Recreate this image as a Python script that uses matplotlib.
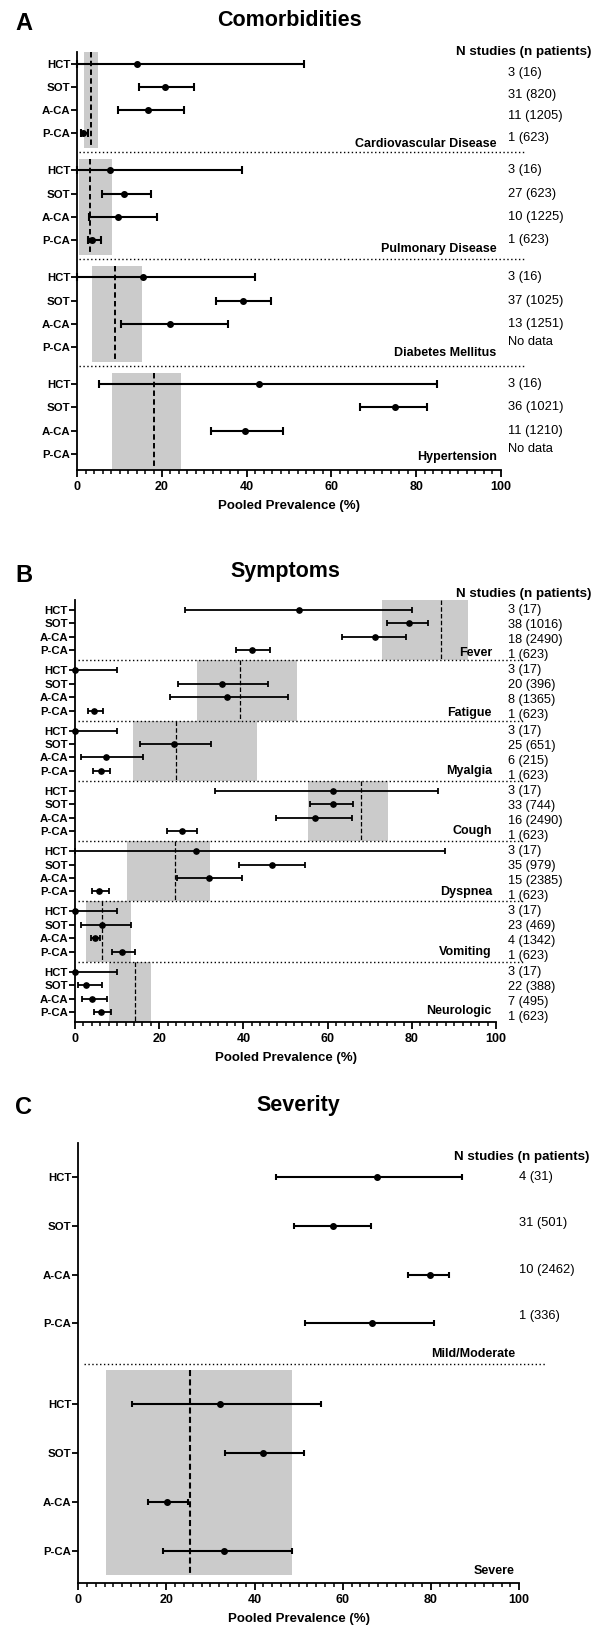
import numpy as np
import matplotlib
matplotlib.use("Agg")
import matplotlib.pyplot as plt
from matplotlib.ticker import MultipleLocator

plt.rcParams['font.family'] = ['Liberation Sans', 'DejaVu Sans']

nan = np.nan
groups = ["HCT", "SOT", "A-CA", "P-CA"]

# ---------------- Panel A: Comorbidities ----------------
comorb_categories = ["Cardiovascular Disease", "Pulmonary Disease", "Diabetes Mellitus", "Hypertension"]
comorb_est = [[14.0, 20.7, 16.6, 1.4], [7.8, 11.0, 9.6, 3.5], [15.5, 39.1, 21.8, nan], [42.8, 74.9, 39.7, nan]]
comorb_lo = [[0.0, 14.5, 9.5, 0.8], [0.0, 5.8, 2.8, 2.5], [0.0, 32.7, 10.4, nan], [5.1, 66.7, 31.5, nan]]
comorb_hi = [[53.5, 27.5, 25.1, 2.5], [38.8, 17.4, 18.8, 5.6], [42.0, 45.7, 35.6, nan], [85.0, 82.6, 48.5, nan]]
comorb_pooled = [3.2, 3.0, 8.9, 18.0]
comorb_pooled_lo = [1.7, 0.4, 3.5, 8.2]
comorb_pooled_hi = [5.0, 8.1, 15.3, 24.6]
comorb_n = [["3 (16)", "31 (820)", "11 (1205)", "1 (623)"],
            ["3 (16)", "27 (623)", "10 (1225)", "1 (623)"],
            ["3 (16)", "37 (1025)", "13 (1251)", "No data"],
            ["3 (16)", "36 (1021)", "11 (1210)", "No data"]]

# ---------------- Panel B: Symptoms ----------------
symp_categories = ["Fever", "Fatigue", "Myalgia", "Cough", "Dyspnea", "Vomiting", "Neurologic"]
symp_est = [[53.2, 79.2, 71.3, 42.1], [0.0, 34.8, 36.0, 4.5], [0.0, 23.5, 7.3, 6.1],
            [61.2, 61.2, 56.9, 25.5], [28.8, 46.7, 31.7, 5.8], [0.0, 6.5, 4.8, 11.1],
            [0.0, 2.5, 4.1, 6.1]]
symp_lo = [[26.0, 74.1, 63.3, 38.2], [0.0, 24.5, 22.5, 3.2], [0.0, 15.4, 1.4, 4.3],
           [33.3, 55.9, 47.8, 21.9], [0.0, 38.9, 24.1, 4.0], [0.0, 1.5, 3.8, 8.9],
           [0.0, 0.8, 1.6, 4.4]]
symp_hi = [[79.9, 83.8, 78.6, 46.2], [9.9, 45.8, 50.5, 6.7], [9.9, 32.2, 16.2, 8.4],
           [86.1, 66.0, 65.8, 29.0], [87.9, 54.6, 39.6, 8.1], [9.9, 13.3, 6.0, 14.2],
           [9.9, 6.5, 7.6, 8.5]]
symp_pooled = [86.9, 39.2, 24.0, 68.0, 23.8, 6.5, 14.2]
symp_pooled_lo = [72.9, 28.9, 13.7, 55.4, 12.3, 2.5, 8.0]
symp_pooled_hi = [93.3, 52.8, 43.2, 74.2, 32.1, 13.3, 18.1]
symp_n = [["3 (17)", "38 (1016)", "18 (2490)", "1 (623)"],
          ["3 (17)", "20 (396)", "8 (1365)", "1 (623)"],
          ["3 (17)", "25 (651)", "6 (215)", "1 (623)"],
          ["3 (17)", "33 (744)", "16 (2490)", "1 (623)"],
          ["3 (17)", "35 (979)", "15 (2385)", "1 (623)"],
          ["3 (17)", "23 (469)", "4 (1342)", "1 (623)"],
          ["3 (17)", "22 (388)", "7 (495)", "1 (623)"]]

# ---------------- Panel C: Severity ----------------
sev_categories = ["Mild/Moderate", "Severe"]
sev_est = [[67.7, 57.8, 79.7, 66.7], [32.1, 42.0, 20.1, 33.1]]
sev_lo = [[44.8, 48.9, 74.9, 51.4], [12.3, 33.4, 15.9, 19.3]]
sev_hi = [[87.0, 66.4, 84.0, 80.6], [55.0, 51.1, 24.9, 48.4]]
sev_pooled = [nan, 25.4]
sev_pooled_lo = [nan, 6.4]
sev_pooled_hi = [nan, 48.4]
sev_n = [["4 (31)", "31 (501)", "10 (2462)", "1 (336)"], None]

FIG_W, FIG_H = 600, 1628
fig = plt.figure(figsize=(FIG_W / 100, FIG_H / 100), dpi=100)


def px_axes(x0, x1, ytop, ybot):
    return fig.add_axes([x0 / FIG_W, 1 - ybot / FIG_H, (x1 - x0) / FIG_W, (ybot - ytop) / FIG_H])


def draw_panel(ax, cats, est, lo, hi, pooled, plo, phi, ntext, step, ylim,
               eb_lw, capsize, ms, dash_lw, dash_style, band_pad,
               cat_offs, txt_x, txt_off, head_xy, sep_x, cat_fs, txt_fs):
    yt, yl = [], []
    for k, cat in enumerate(cats):
        base = k * step
        ys = [base + j for j in range(4)]
        # pooled band and dashed line
        if not np.isnan(pooled[k]):
            top, bot = base - band_pad[0], base + 3 + band_pad[1]
            ax.fill_betweenx([top, bot], plo[k], phi[k], color='#cbcbcb', lw=0, zorder=0)
            ax.plot([pooled[k], pooled[k]], [top, bot], color='k', lw=dash_lw,
                    linestyle=dash_style, zorder=1)
        for j in range(4):
            e = est[k][j]
            if np.isnan(e):
                continue
            ax.errorbar([e], [ys[j]], xerr=[[e - lo[k][j]], [hi[k][j] - e]], fmt='o',
                        color='k', ms=ms, lw=eb_lw, capsize=capsize, capthick=eb_lw,
                        zorder=3, clip_on=False)
        yt += ys
        yl += groups
        ax.text(99, base + 3 + cat_offs[k], cat, ha='right', va='center',
                fontweight='bold', fontsize=cat_fs)
        if ntext[k] is not None:
            for j in range(4):
                off = txt_off(k, j, ntext[k][j])
                ax.text(txt_x, ys[j] + off, ntext[k][j], ha='left', va='center',
                        fontsize=txt_fs, clip_on=False)
        if k < len(cats) - 1:
            ysep = base + 3 + (step - 3) / 2
            ax.plot(sep_x, [ysep, ysep], color='k', lw=1.0, linestyle=(0, (1.0, 1.8)),
                    clip_on=False, zorder=2)
    ax.text(head_xy[0], head_xy[1], "N studies (n patients)", ha='right', va='center',
            fontweight='bold', fontsize=9.6, clip_on=False)
    ax.set_yticks(yt)
    ax.set_yticklabels(yl, fontweight='bold', fontsize=8.2)
    ax.set_ylim(ylim[1], ylim[0])
    ax.set_xlim(0, 100)
    ax.xaxis.set_major_locator(MultipleLocator(20))
    ax.xaxis.set_minor_locator(MultipleLocator(2))
    for lab in ax.get_xticklabels():
        lab.set_fontweight('bold')
        lab.set_fontsize(9)
    ax.set_xlabel("Pooled Prevalence (%)", fontweight='bold', fontsize=9.5, labelpad=5)
    for s in ['top', 'right']:
        ax.spines[s].set_visible(False)
    for s in ['left', 'bottom']:
        ax.spines[s].set_linewidth(1.3)
    ax.tick_params(axis='y', length=4, width=1.3, pad=1)
    ax.tick_params(axis='x', which='major', length=5, width=1.3, pad=3)
    ax.tick_params(axis='x', which='minor', length=2.8, width=1.1)


# Panel A
axA = px_axes(77.3, 500.8, 52, 470)
draw_panel(axA, comorb_categories, comorb_est, comorb_lo, comorb_hi, comorb_pooled,
           comorb_pooled_lo, comorb_pooled_hi, comorb_n, step=4.6, ylim=(-0.5, 17.49),
           eb_lw=1.5, capsize=2.8, ms=4.0, dash_lw=1.4, dash_style=(0, (2.8, 1.7)),
           band_pad=(0.5, 0.65), cat_offs=[0.47, 0.4, 0.26, 0.15], txt_x=101.6,
           txt_off=lambda k, j, t: (0.4 - 0.07 * j) if k == 0 else (-0.22 if t == "No data" else 0.0),
           head_xy=(121.5, -0.5), sep_x=[0.4, 105.7], cat_fs=9, txt_fs=9.3)

# Panel B
axB = px_axes(75.0, 496.2, 600, 1022)
draw_panel(axB, symp_categories, symp_est, symp_lo, symp_hi, symp_pooled,
           symp_pooled_lo, symp_pooled_hi, symp_n, step=4.5, ylim=(-0.75, 30.75),
           eb_lw=1.3, capsize=2.4, ms=3.8, dash_lw=0.9, dash_style=(0, (3.6, 1.8)),
           band_pad=(0.75, 0.75), cat_offs=[0.2, 0.15, 0.0, 0.0, 0.07, 0.0, -0.1],
           txt_x=102.7, txt_off=lambda k, j, t: 0.12 * j,
           head_xy=(122.7, -1.2), sep_x=[0.8, 106.8], cat_fs=9, txt_fs=9.2)

# Panel C
axC = px_axes(78.1, 519.2, 1143, 1583)
draw_panel(axC, sev_categories, sev_est, sev_lo, sev_hi, sev_pooled,
           sev_pooled_lo, sev_pooled_hi, sev_n, step=4.66, ylim=(-0.7, 8.32),
           eb_lw=1.5, capsize=2.4, ms=4.0, dash_lw=1.5, dash_style=(0, (2.9, 1.6)),
           band_pad=(0.7, 0.49), cat_offs=[0.62, 0.41], txt_x=100.0,
           txt_off=lambda k, j, t: -0.05 * j,
           head_xy=(115.8, -0.41), sep_x=[1.3, 106.0], cat_fs=9, txt_fs=9.3)

# Titles and panel letters
for (title, letter, ax, ycen) in [("Comorbidities", "A", axA, 20),
                                  ("Symptoms", "B", axB, 572),
                                  ("Severity", "C", axC, 1105)]:
    pos = ax.get_position()
    fig.text((pos.x0 + pos.x1) / 2, 1 - ycen / FIG_H, title, ha='center', va='center',
             fontweight='bold', fontsize=15.5)
    fig.text(15 / FIG_W, 1 - (ycen + 3) / FIG_H, letter, ha='left', va='center',
             fontweight='bold', fontsize=17)

fig.savefig("out.png", dpi=100)
